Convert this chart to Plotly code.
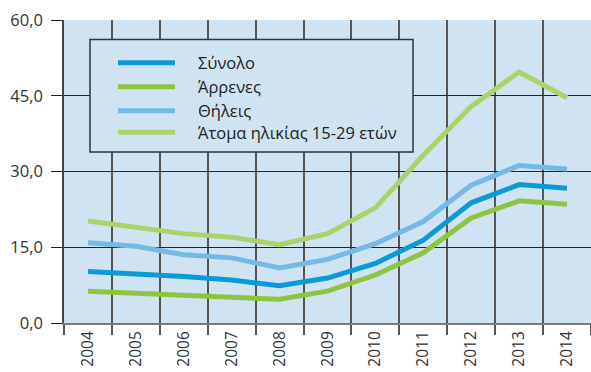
import plotly.graph_objects as go

years = ["2004", "2005", "2006", "2007", "2008", "2009", "2010", "2011", "2012", "2013", "2014"]
total = [10.2, 9.8, 9.2, 8.5, 7.4, 8.9, 11.8, 16.4, 23.8, 27.4, 26.7]
males = [6.3, 5.9, 5.6, 5.1, 4.7, 6.3, 9.5, 13.9, 20.8, 24.2, 23.5]
females = [15.9, 15.2, 13.5, 12.9, 10.9, 12.6, 15.7, 20.1, 27.3, 31.2, 30.5]
youth = [20.2, 18.9, 17.7, 17.0, 15.5, 17.7, 22.8, 33.2, 42.9, 49.7, 44.6]

names = ["Σύνολο", "Άρρενες", "Θήλεις", "Άτομα ηλικίας 15-29 ετών"]
colors = ["#0a9ad8", "#8cc641", "#76b9e6", "#a9d46a"]
series = [total, males, females, youth]

W, H = 591, 372
ML, MR, MT, MB = 64, 0, 20, 49
PW, PH = W - ML - MR, H - MT - MB

def px(p):
    return (p - ML) / PW

def py(p):
    return (H - MB - p) / PH

fig = go.Figure()
for name, col, vals in zip(names, colors, series):
    fig.add_trace(go.Scatter(x=years, y=vals, name=name, mode="lines",
                             line=dict(color=col, width=5), showlegend=False))

font = "Open Sans, DejaVu Sans, sans-serif"

shapes = [dict(type="rect", xref="paper", yref="paper",
               x0=px(90), x1=px(413), y0=py(152), y1=py(39.5),
               line=dict(color="#333333", width=1.5), fillcolor="#cfe3f3", layer="above")]
annotations = []
rows = [62.7, 86.7, 110.7, 132.3]
for name, col, ry in zip(names, colors, rows):
    shapes.append(dict(type="line", xref="paper", yref="paper",
                       x0=px(118), x1=px(175), y0=py(ry), y1=py(ry),
                       line=dict(color=col, width=5), layer="above"))
    annotations.append(dict(text=name, xref="paper", yref="paper", x=px(196), y=py(ry),
                            xanchor="left", yanchor="middle", showarrow=False,
                            font=dict(family=font, size=16.5, color="#222222")))

fig.update_layout(
    width=W, height=H,
    margin=dict(l=ML, r=MR, t=MT, b=MB),
    paper_bgcolor="white", plot_bgcolor="#cfe3f3",
    separators=",.",
    font=dict(family=font, size=15, color="#333333"),
    shapes=shapes, annotations=annotations,
    xaxis=dict(type="category", range=[-0.5, 10.5], tickson="boundaries",
               showgrid=True, gridcolor="#555555", gridwidth=1.5,
               ticks="outside", ticklen=10, tickcolor="#555555", tickwidth=1.5,
               tickangle=-90, showline=True, linecolor="#7a7a7a", linewidth=2,
               tickfont=dict(size=15.5, color="#333333")),
    yaxis=dict(range=[0, 60], tickvals=[0, 15, 30, 45, 60], tickformat=".1f",
               showgrid=True, gridcolor="#222222", gridwidth=1,
               ticks="outside", ticklen=11, tickcolor="#222222", tickwidth=1,
               ticklabelstandoff=5,
               showline=True, linecolor="#444444", linewidth=1.5, zeroline=False,
               tickfont=dict(size=16.5, color="#333333")),
)

fig.write_html("out.html", config={"displayModeBar": False},
               post_script="document.body.style.margin='0px';document.body.style.overflow='hidden';")
